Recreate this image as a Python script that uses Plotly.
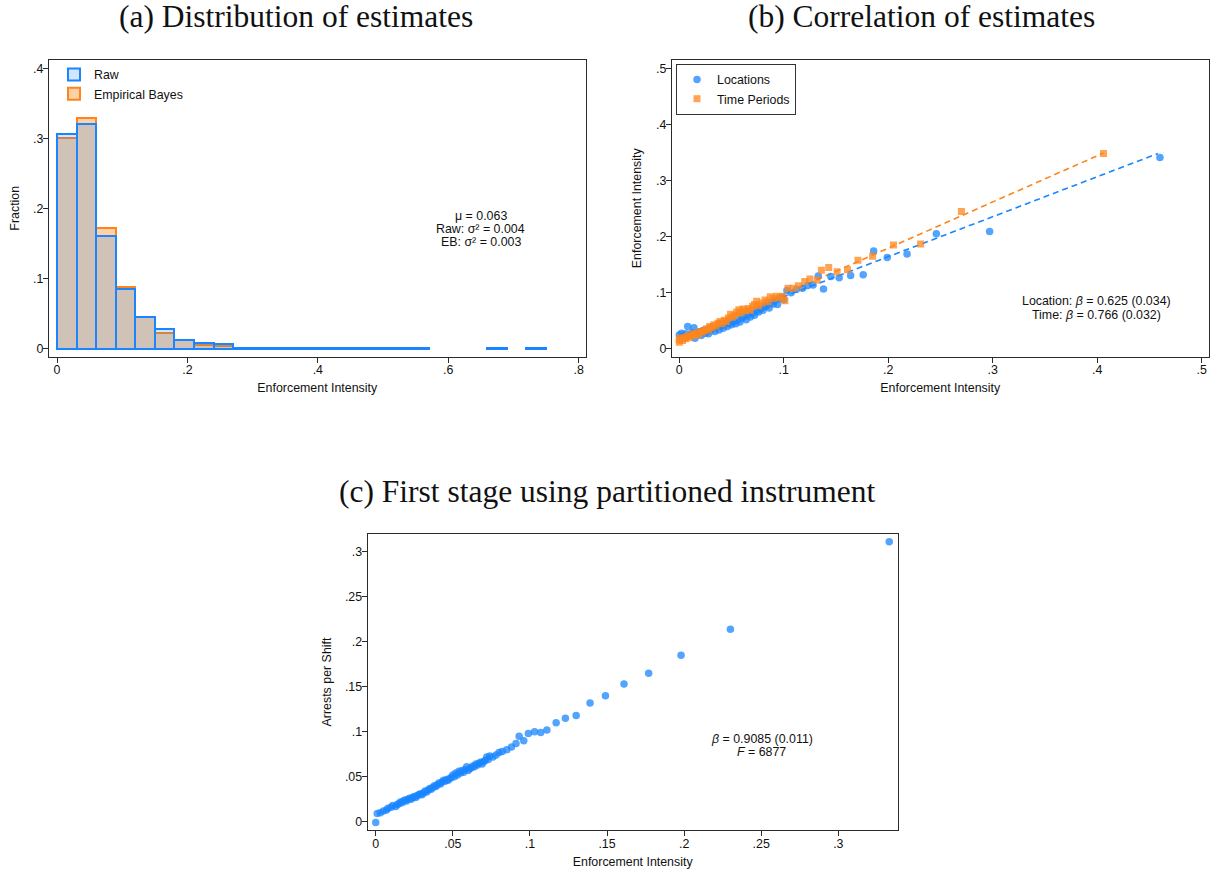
import plotly.graph_objects as go

W, H = 1211, 872

# ---------------- Panel (a): distribution of estimates ----------------
bin_starts = [0.00, 0.03, 0.06, 0.09, 0.12, 0.15, 0.18, 0.21, 0.24, 0.27,
              0.30, 0.33, 0.36, 0.39, 0.42, 0.45, 0.48, 0.51, 0.54, 0.57,
              0.60, 0.63, 0.66, 0.69, 0.72]
bin_width = 0.03
raw_frac = [0.306, 0.321, 0.1615, 0.085, 0.046, 0.028, 0.013, 0.0085, 0.0067, 0.002,
            0.001, 0.001, 0.001, 0.001, 0.001, 0.001, 0.001, 0.001, 0.001, None,
            None, None, 0.001, None, 0.001]
eb_frac = [0.300, 0.329, 0.173, 0.089, 0.046, 0.0225, 0.013, 0.0057, 0.0048, 0.0015,
           0.0005, None, 0.0005, None, None, 0.0005, None, None, None, None,
           None, None, None, None, None]
a_xticks = [0, 0.2, 0.4, 0.6, 0.8]
a_xtick_text = ["0", ".2", ".4", ".6", ".8"]
a_yticks = [0, 0.1, 0.2, 0.3, 0.4]
a_ytick_text = ["0", ".1", ".2", ".3", ".4"]

# ---------------- Panel (b): correlation of estimates ----------------
loc_x = [0.000, 0.002, 0.004, 0.006, 0.008, 0.010, 0.012, 0.014, 0.015, 0.017,
         0.019, 0.021, 0.023, 0.025, 0.027, 0.028, 0.030, 0.032, 0.034, 0.036,
         0.038, 0.040, 0.042, 0.044, 0.046, 0.048, 0.050, 0.052, 0.054, 0.056,
         0.058, 0.060, 0.062, 0.064, 0.066, 0.068, 0.070, 0.072, 0.074, 0.076,
         0.078, 0.080, 0.082, 0.084, 0.086, 0.088, 0.090, 0.092, 0.094, 0.096,
         0.098, 0.100, 0.103, 0.107, 0.112, 0.118, 0.123, 0.128, 0.133, 0.138,
         0.145, 0.153, 0.164, 0.176, 0.186, 0.199, 0.218, 0.246, 0.297, 0.460]
loc_y = [0.025, 0.028, 0.022, 0.027, 0.040, 0.024, 0.029, 0.038, 0.019, 0.026,
         0.030, 0.024, 0.032, 0.028, 0.035, 0.027, 0.033, 0.036, 0.031, 0.039,
         0.034, 0.041, 0.037, 0.044, 0.040, 0.046, 0.043, 0.049, 0.045, 0.052,
         0.048, 0.055, 0.058, 0.052, 0.061, 0.057, 0.064, 0.060, 0.068, 0.066,
         0.072, 0.069, 0.075, 0.078, 0.073, 0.083, 0.080, 0.087, 0.079, 0.090,
         0.092, 0.088, 0.104, 0.100, 0.106, 0.108, 0.113, 0.114, 0.130, 0.107,
         0.129, 0.127, 0.131, 0.132, 0.1745, 0.163, 0.169, 0.205, 0.209, 0.341]
time_x = [0.000, 0.000, 0.001, 0.003, 0.004, 0.006, 0.007, 0.009, 0.010, 0.012,
          0.013, 0.015, 0.017, 0.018, 0.020, 0.022, 0.024, 0.026, 0.028, 0.029,
          0.031, 0.033, 0.035, 0.037, 0.039, 0.041, 0.043, 0.045, 0.047, 0.049,
          0.051, 0.053, 0.055, 0.057, 0.059, 0.061, 0.063, 0.066, 0.068, 0.070,
          0.072, 0.074, 0.076, 0.079, 0.082, 0.085, 0.087, 0.090, 0.093, 0.096,
          0.099, 0.101, 0.104, 0.109, 0.114, 0.120, 0.125, 0.132, 0.136, 0.143,
          0.151, 0.161, 0.171, 0.185, 0.205, 0.231, 0.270, 0.406]
time_y = [0.012, 0.016, 0.020, 0.015, 0.019, 0.018, 0.022, 0.020, 0.024, 0.023,
          0.027, 0.026, 0.028, 0.025, 0.031, 0.030, 0.033, 0.036, 0.034, 0.040,
          0.038, 0.043, 0.041, 0.046, 0.049, 0.045, 0.051, 0.049, 0.055, 0.062,
          0.057, 0.060, 0.066, 0.070, 0.064, 0.071, 0.068, 0.072, 0.069, 0.076,
          0.079, 0.085, 0.077, 0.082, 0.087, 0.084, 0.093, 0.090, 0.094, 0.091,
          0.094, 0.086, 0.108, 0.108, 0.1125, 0.120, 0.1246, 0.123, 0.140, 0.145,
          0.1376, 0.141, 0.158, 0.165, 0.185, 0.187, 0.245, 0.348]
loc_fit_x = [0.000, 0.458]
loc_fit_y = [0.022, 0.348]
time_fit_x = [0.000, 0.406]
time_fit_y = [0.015, 0.349]
b_xticks = [0, 0.1, 0.2, 0.3, 0.4, 0.5]
b_xtick_text = ["0", ".1", ".2", ".3", ".4", ".5"]
b_yticks = [0, 0.1, 0.2, 0.3, 0.4, 0.5]
b_ytick_text = ["0", ".1", ".2", ".3", ".4", ".5"]

# ---------------- Panel (c): first stage ----------------
fs_x = [0.000, 0.001, 0.003, 0.005, 0.007, 0.008, 0.010, 0.011, 0.013, 0.014,
        0.015, 0.016, 0.017, 0.018, 0.019, 0.020, 0.021, 0.022, 0.023, 0.024,
        0.025, 0.026, 0.027, 0.028, 0.029, 0.030, 0.031, 0.032, 0.033, 0.034,
        0.035, 0.036, 0.037, 0.038, 0.039, 0.040, 0.041, 0.042, 0.043, 0.044,
        0.045, 0.046, 0.047, 0.048, 0.049, 0.050, 0.051, 0.052, 0.053, 0.054,
        0.055, 0.056, 0.057, 0.058, 0.059, 0.060, 0.061, 0.062, 0.063, 0.064,
        0.065, 0.066, 0.067, 0.068, 0.069, 0.070, 0.071, 0.072, 0.073, 0.074,
        0.076, 0.078, 0.080, 0.082, 0.085, 0.088, 0.091, 0.093, 0.096, 0.099,
        0.103, 0.107, 0.111, 0.117, 0.123, 0.130, 0.139, 0.149, 0.161, 0.177,
        0.198, 0.230, 0.333]
fs_y = [-0.001, 0.009, 0.010, 0.012, 0.013, 0.015, 0.016, 0.018, 0.017, 0.019,
        0.020, 0.022, 0.021, 0.023, 0.024, 0.023, 0.025, 0.026, 0.025, 0.027,
        0.028, 0.027, 0.029, 0.030, 0.031, 0.030, 0.032, 0.034, 0.033, 0.035,
        0.037, 0.036, 0.038, 0.040, 0.039, 0.041, 0.043, 0.042, 0.044, 0.046,
        0.045, 0.047, 0.046, 0.048, 0.049, 0.052, 0.050, 0.054, 0.052, 0.056,
        0.054, 0.057, 0.055, 0.058, 0.061, 0.057, 0.059, 0.060, 0.062, 0.061,
        0.064, 0.063, 0.065, 0.066, 0.064, 0.067, 0.068, 0.072, 0.069, 0.073,
        0.072, 0.074, 0.077, 0.078, 0.080, 0.083, 0.087, 0.095, 0.090, 0.098,
        0.100, 0.099, 0.102, 0.110, 0.115, 0.118, 0.132, 0.140, 0.153, 0.165,
        0.185, 0.214, 0.311]
c_xticks = [0, 0.05, 0.1, 0.15, 0.2, 0.25, 0.3]
c_xtick_text = ["0", ".05", ".1", ".15", ".2", ".25", ".3"]
c_yticks = [0, 0.05, 0.1, 0.15, 0.2, 0.25, 0.3]
c_ytick_text = ["0", ".05", ".1", ".15", ".2", ".25", ".3"]

# ---------------- styling ----------------
BLUE = "#1A85FF"
ORANGE = "#FF851B"
SANS = "Liberation Sans, Arial, Helvetica, sans-serif"
SERIF = "Liberation Serif, Times New Roman, serif"
FS = 12.4
TITLE_FS = 31.5
AXC = "#2a2a2a"


def px_x(a, b):
    return [a / W, b / W]


def px_y(top, bottom):
    return [1 - bottom / H, 1 - top / H]


fig = go.Figure()

bin_centers = [s + bin_width / 2 for s in bin_starts]
fig.add_trace(go.Bar(
    x=bin_centers, y=eb_frac, width=bin_width, name="Empirical Bayes",
    marker=dict(color="rgba(255,140,30,0.40)", line=dict(color=ORANGE, width=2)),
    legendrank=2, legend="legend", xaxis="x", yaxis="y"))
fig.add_trace(go.Bar(
    x=bin_centers, y=raw_frac, width=bin_width, name="Raw",
    marker=dict(color="rgba(26,133,255,0.20)", line=dict(color=BLUE, width=2)),
    legendrank=1, legend="legend", xaxis="x", yaxis="y"))

marker_line = dict(width=0)
fig.add_trace(go.Scatter(
    x=loc_fit_x, y=loc_fit_y, mode="lines", showlegend=False,
    line=dict(color=BLUE, width=1.6, dash="6px,4px"), xaxis="x2", yaxis="y2"))
fig.add_trace(go.Scatter(
    x=time_fit_x, y=time_fit_y, mode="lines", showlegend=False,
    line=dict(color=ORANGE, width=1.6, dash="6px,4px"), xaxis="x2", yaxis="y2"))
fig.add_trace(go.Scatter(
    x=loc_x, y=loc_y, mode="markers", name="Locations",
    marker=dict(symbol="circle", size=7.5, color=BLUE, opacity=0.75, line=marker_line),
    legend="legend2", legendrank=1, xaxis="x2", yaxis="y2"))
fig.add_trace(go.Scatter(
    x=time_x, y=time_y, mode="markers", name="Time Periods",
    marker=dict(symbol="square", size=7, color=ORANGE, opacity=0.75, line=marker_line),
    legend="legend2", legendrank=2, xaxis="x2", yaxis="y2"))

fig.add_trace(go.Scatter(
    x=fs_x, y=fs_y, mode="markers", showlegend=False,
    marker=dict(symbol="circle", size=7.5, color=BLUE, opacity=0.75, line=marker_line),
    xaxis="x3", yaxis="y3"))


def axis(domain, rng, tickvals, ticktext, title, standoff, anchor):
    return dict(
        domain=domain, range=rng, tickvals=tickvals, ticktext=ticktext,
        title=dict(text=title, font=dict(family=SANS, size=FS, color="#111"), standoff=standoff),
        showline=True, linecolor=AXC, linewidth=1.2, mirror=True,
        ticks="outside", ticklen=5, tickwidth=1.1, tickcolor=AXC,
        ticklabelstandoff=-3,
        tickfont=dict(family=SANS, size=FS, color="#111"),
        showgrid=False, zeroline=False, anchor=anchor, fixedrange=True)


fig.update_layout(
    width=W, height=H, margin=dict(l=0, r=0, t=0, b=0),
    paper_bgcolor="white", plot_bgcolor="white", barmode="overlay", bargap=0,
    font=dict(family=SANS, size=FS, color="#111"),
    xaxis=axis(px_x(49, 585.5), [-0.0123, 0.8105], a_xticks, a_xtick_text,
               "Enforcement Intensity", 6, "y"),
    yaxis=axis(px_y(60, 356.5), [-0.0107, 0.4117], a_yticks, a_ytick_text,
               "Fraction", 10, "x"),
    xaxis2=axis(px_x(672, 1208.5), [-0.007, 0.5065], b_xticks, b_xtick_text,
                "Enforcement Intensity", 6, "y2"),
    yaxis2=axis(px_y(60, 356.5), [-0.0134, 0.5146], b_yticks, b_ytick_text,
                "Enforcement Intensity", 11, "x2"),
    xaxis3=axis(px_x(367.7, 897.7), [-0.0052, 0.3385], c_xticks, c_xtick_text,
                "Enforcement Intensity", 7, "y3"),
    yaxis3=axis(px_y(534, 830), [-0.0092, 0.3197], c_yticks, c_ytick_text,
                "Arrests per Shift", 10, "x3"),
    legend=dict(x=54 / W, y=1 - 60 / H, xanchor="left", yanchor="top",
                bgcolor="rgba(0,0,0,0)", borderwidth=0,
                font=dict(family=SANS, size=FS, color="#111"),
                tracegroupgap=0),
    legend2=dict(x=676 / W, y=1 - 64 / H, xanchor="left", yanchor="top",
                 bgcolor="white", bordercolor="#333", borderwidth=1,
                 font=dict(family=SANS, size=FS, color="#111"),
                 tracegroupgap=0),
)

annotations = [
    # panel titles
    dict(text="(a) Distribution of estimates", x=296 / W, y=1 - 17 / H),
    dict(text="(b) Correlation of estimates", x=921 / W, y=1 - 17 / H),
    dict(text="(c) First stage using partitioned instrument", x=607 / W, y=1 - 491 / H),
]
for a in annotations:
    a.update(xref="paper", yref="paper", xanchor="center", yanchor="middle",
             showarrow=False, font=dict(family=SERIF, size=TITLE_FS, color="#111"))

stats = [
    # panel (a) stats
    dict(text="\u03bc = 0.063", x=0.6496, y=0.1895, xref="x", yref="y"),
    dict(text="Raw: \u03c3\u00b2 = 0.004", x=0.6496, y=0.171, xref="x", yref="y"),
    dict(text="EB: \u03c3\u00b2 = 0.003", x=0.6496, y=0.1524, xref="x", yref="y"),
    # panel (b) stats
    dict(text="Location: <i>\u03b2</i> = 0.625 (0.034)", x=0.3995, y=0.086, xref="x2", yref="y2"),
    dict(text="Time: <i>\u03b2</i> = 0.766 (0.032)", x=0.3995, y=0.0605, xref="x2", yref="y2"),
    # panel (c) stats
    dict(text="<i>\u03b2</i> = 0.9085 (0.011)", x=0.2503, y=0.0916, xref="x3", yref="y3"),
    dict(text="<i>F</i> = 6877", x=0.2503, y=0.0771, xref="x3", yref="y3"),
]
for a in stats:
    a.update(showarrow=False, xanchor="center", yanchor="middle",
             font=dict(family=SANS, size=FS, color="#111"))

fig.update_layout(annotations=annotations + stats)

fig.write_html(
    "out.html",
    config={"displayModeBar": False},
    post_script="document.body.style.margin='0';document.body.style.overflow='hidden';",
)
